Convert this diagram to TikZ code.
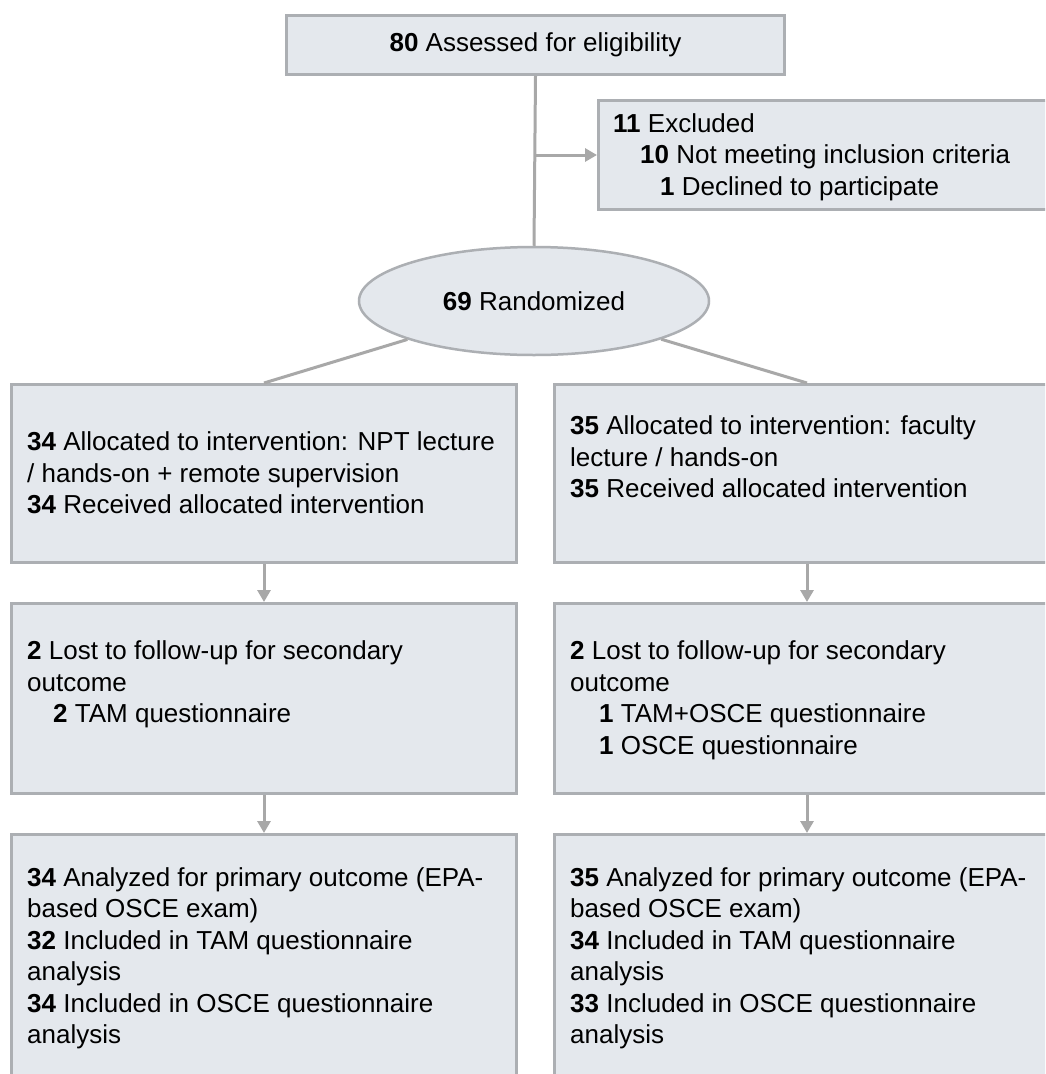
\documentclass[tikz,border=0pt]{standalone}
\usepackage{fontspec}
\setmainfont{Liberation Sans}
\usetikzlibrary{shapes.geometric,arrows.meta}
\definecolor{boxfill}{RGB}{228,232,237}
\definecolor{boxline}{RGB}{172,175,179}
\definecolor{connline}{RGB}{168,168,168}
\newcommand\ls{\rule[-7pt]{0pt}{31pt}}
\begin{document}
\begin{tikzpicture}[x=1pt,y=-1pt,
  box/.style={draw=boxline,fill=boxfill,line width=3pt,rectangle,inner sep=0pt,anchor=north west},
  txt/.style={align=left,inner sep=0pt,anchor=west,font=\fontsize{26}{31.5}\selectfont},
  conn/.style={draw=connline,line width=3pt},
  arr/.style={conn,-{Triangle[width=13pt,length=12pt]}}]
\useasboundingbox (0,0) rectangle (1045,1074);
\clip (0,0) rectangle (1045,1074);
\fill[white] (0,0) rectangle (1045,1074);

% top
\node[box,minimum width=498pt,minimum height=59pt,font=\fontsize{26}{31.5}\selectfont] (top) at (285,14) {\textbf{80} Assessed for eligibility};
% excluded
\node[box,minimum width=461pt,minimum height=109pt] (excl) at (597,99) {};
\node[txt] (texcl) at ([xshift=16pt]excl.west) {\ls\textbf{11} Excluded\\
\hspace*{27pt}\textbf{10} Not meeting inclusion criteria\\
\hspace*{47pt}\textbf{1} Declined to participate\ls};
% randomized
\node[draw=boxline,fill=boxfill,line width=2.5pt,ellipse,inner sep=0pt,minimum width=350pt,minimum height=108pt,font=\fontsize{26}{31.5}\selectfont] (rand) at (534,301) {\textbf{69} Randomized};

% row 1
\node[box,minimum width=505pt,minimum height=178pt] (L1) at (10,383) {};
\node[box,minimum width=505pt,minimum height=178pt] (R1) at (553,383) {};
\node[txt] (tL1) at ([xshift=17pt]L1.west) {\ls\textbf{34} Allocated to intervention: NPT lecture\\
/ hands-on + remote supervision\\
\textbf{34} Received allocated intervention\ls};
\node[txt] (tR1) at ([xshift=17pt]R1.west) {\ls\textbf{35} Allocated to intervention: faculty\\
lecture / hands-on\\
\textbf{35} Received allocated intervention\\
\ls};

% row 2
\node[box,minimum width=505pt,minimum height=190pt] (L2) at (10,602) {};
\node[box,minimum width=505pt,minimum height=190pt] (R2) at (553,602) {};
\node[txt] (tL2) at ([xshift=17pt]L2.west) {\ls\textbf{2} Lost to follow-up for secondary\\
outcome\\
\hspace*{26pt}\textbf{2} TAM questionnaire\\
\ls};
\node[txt] (tR2) at ([xshift=17pt]R2.west) {\ls\textbf{2} Lost to follow-up for secondary\\
outcome\\
\hspace*{29pt}\textbf{1} TAM+OSCE questionnaire\\
\hspace*{29pt}\textbf{1} OSCE questionnaire\ls};

% row 3
\node[box,minimum width=505pt,minimum height=244pt] (L3) at (10,833) {};
\node[box,minimum width=505pt,minimum height=244pt] (R3) at (553,833) {};
\node[txt] (tL3) at ([xshift=17pt]L3.west) {\ls\textbf{34} Analyzed for primary outcome (EPA-\\
based OSCE exam)\\
\textbf{32} Included in TAM questionnaire\\
analysis\\
\textbf{34} Included in OSCE questionnaire\\
analysis\ls};
\node[txt] (tR3) at ([xshift=17pt]R3.west) {\ls\textbf{35} Analyzed for primary outcome (EPA-\\
based OSCE exam)\\
\textbf{34} Included in TAM questionnaire\\
analysis\\
\textbf{33} Included in OSCE questionnaire\\
analysis\ls};

% connectors
\draw[conn] (top.south) -- (rand.north);
\coordinate (j) at (top.south |- excl.west);
\draw[arr] (j) -- (excl.west);
\draw[conn] (rand) -- (L1.north);
\draw[conn] (rand) -- (R1.north);
\draw[arr] (L1.south) -- (L2.north);
\draw[arr] (R1.south) -- (R2.north);
\draw[arr] (L2.south) -- (L3.north);
\draw[arr] (R2.south) -- (R3.north);
\end{tikzpicture}
\end{document}
